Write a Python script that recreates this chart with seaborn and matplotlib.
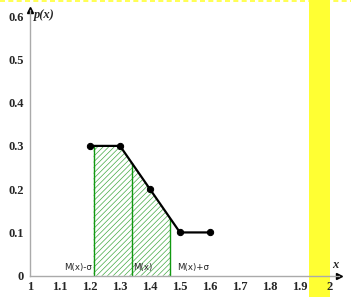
import matplotlib
matplotlib.use("Agg")
import matplotlib.pyplot as plt
import seaborn as sns
import pandas as pd
import numpy as np
from matplotlib.patches import Rectangle

# data
x_vals = [1.2, 1.3, 1.4, 1.5, 1.6]
p_vals = [0.3, 0.3, 0.2, 0.1, 0.1]
m_x = 1.34
sigma = 0.128
x_ticks = [1, 1.1, 1.2, 1.3, 1.4, 1.5, 1.6, 1.7, 1.8, 1.9, 2]
x_tick_labels = ["1", "1.1", "1.2", "1.3", "1.4", "1.5", "1.6", "1.7", "1.8", "1.9", "2"]
y_ticks = [0, 0.1, 0.2, 0.3, 0.4, 0.5, 0.6]
y_tick_labels = ["0", "0.1", "0.2", "0.3", "0.4", "0.5", "0.6"]
mark_labels = ["M(x)-σ", "M(x)", "M(x)+σ"]

sns.set_style("white")
plt.rcParams["hatch.linewidth"] = 0.5
df = pd.DataFrame({"x": x_vals, "p": p_vals})

fig = plt.figure(figsize=(3.51, 2.97), dpi=100)
ax = fig.add_axes([0.0855, 0.0717, 0.88, 0.896])
ax.patch.set_alpha(0)

# shaded region between M-sigma and M+sigma
xs = np.linspace(m_x - sigma, m_x + sigma, 200)
ys = np.interp(xs, x_vals, p_vals)
ax.fill_between(xs, 0, ys, facecolor="none", edgecolor="#44aa44", hatch="//////", linewidth=0)
for xv in [m_x - sigma, m_x, m_x + sigma]:
    ax.plot([xv, xv], [0, np.interp(xv, x_vals, p_vals)], color="#119911", lw=1.0)

sns.lineplot(data=df, x="x", y="p", ax=ax, color="black", lw=1.6,
             marker="o", markersize=4.5, markeredgecolor="black")

ax.set_xlim(1, 2.03)
ax.set_ylim(0, 0.615)
ax.set_xticks(x_ticks)
ax.set_xticklabels(x_tick_labels)
ax.set_yticks(y_ticks)
ax.set_yticklabels(y_tick_labels)
ax.set_xlabel("")
ax.set_ylabel("")
for lab in ax.get_xticklabels() + ax.get_yticklabels():
    lab.set_fontfamily("Liberation Serif")
    lab.set_fontweight("bold")
    lab.set_fontsize(9)
ax.tick_params(axis="x", direction="inout", length=3, width=0.6, color="#555555", pad=2)
ax.tick_params(axis="y", direction="out", length=2.5, width=0.6, color="#555555", pad=2)
for s in ["top", "right"]:
    ax.spines[s].set_visible(False)
for s in ["left", "bottom"]:
    ax.spines[s].set_color("#aaaaaa")
    ax.spines[s].set_linewidth(1.0)

# arrows
ax.plot(1, 0.615, marker="^", color="black", markersize=4, clip_on=False)
ax.plot(2.03, 0, marker=">", color="black", markersize=4, clip_on=False)

ax.text(1.012, 0.603, "p(x)", fontfamily="Liberation Serif", fontstyle="italic",
        fontweight="bold", fontsize=9, va="center", ha="left")
ax.text(2.018, 0.025, "x", fontfamily="Liberation Serif", fontstyle="italic",
        fontweight="bold", fontsize=9, va="center", ha="center")

ax.text(m_x - sigma - 0.005, 0.018, mark_labels[0], fontsize=6.2, ha="right", va="center")
ax.text(m_x + 0.005, 0.018, mark_labels[1], fontsize=6.2, ha="left", va="center")
ax.text(m_x + sigma + 0.022, 0.018, mark_labels[2], fontsize=6.2, ha="left", va="center")

# yellow strip artifact
fig.patches.append(Rectangle((309 / 351, 0), 21 / 351, 1, transform=fig.transFigure,
                             facecolor="#ffff33", edgecolor="none", zorder=-1))
fig.lines.append(plt.Line2D([0, 1], [0.997, 0.997], transform=fig.transFigure,
                            color="#ffff33", lw=1.2, ls=(0, (3, 2))))

fig.savefig("out.png", dpi=100)
